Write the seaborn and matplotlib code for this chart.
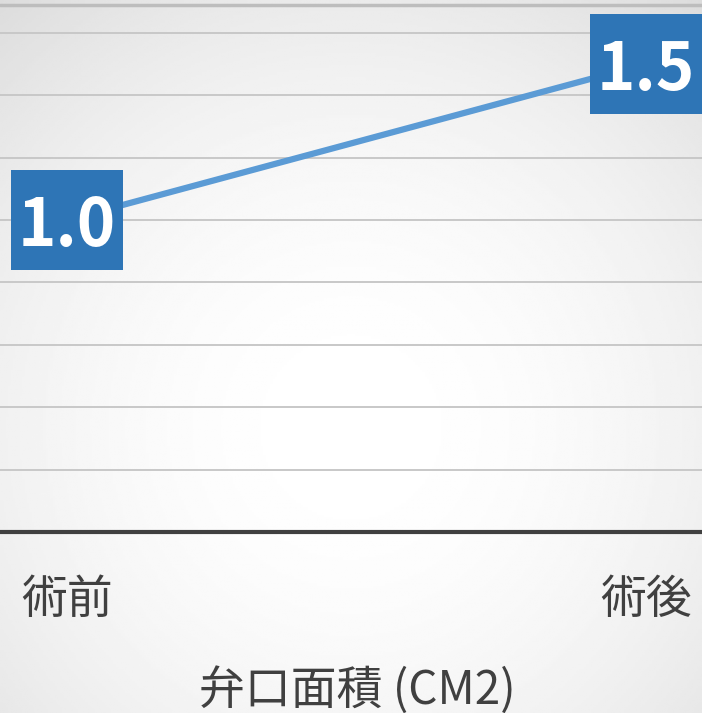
# 弁口面積 術前/術後 折れ線グラフ
import numpy as np
import pandas as pd
import seaborn as sns
import matplotlib.pyplot as plt

phases = ['術前', '術後']
valveArea = [1.0, 1.5]
valueLabels = ['1.0', '1.5']
xTitle = '弁口面積 (CM2)'
gridTicks = [0.0, 0.2, 0.4, 0.6, 0.8, 1.0, 1.2, 1.4, 1.6]

sns.set_theme(style='white')
plt.rcParams['font.family'] = ['Noto Sans CJK JP', 'DejaVu Sans']

fig = plt.figure(figsize=(7.02, 7.13), dpi=100)

# radial gradient background
bg = fig.add_axes([0, 0, 1, 1], zorder=0)
yy, xx = np.mgrid[0:1:300j, 0:1:300j]
r = np.sqrt((xx - 0.5) ** 2 + (yy - 0.6) ** 2)
shade = np.clip(1.0 - 0.11 * (r / 0.7) ** 2, 0, 1)
bg.imshow(shade, cmap='gray', vmin=0, vmax=1, extent=[0, 1, 0, 1],
          aspect='auto', origin='upper')
bg.axis('off')

ax = fig.add_axes([0, 0.2539, 1, 0.7461], zorder=1)
ax.patch.set_alpha(0)

df = pd.DataFrame({'phase': phases, 'area': valveArea})
sns.lineplot(data=df, x='phase', y='area', ax=ax, color='#5B9BD5',
             linewidth=4.5, sort=False)

# label boxes drawn as rectangular markers on the data points
boxShape = [(-1.13, -1), (1.13, -1), (1.13, 1), (-1.13, 1)]
ax.plot(df['phase'], df['area'], linestyle='none', marker=boxShape,
        markersize=80.6, markerfacecolor='#2E75B6', markeredgewidth=0,
        zorder=4)

ax.set_xlim(-0.1157, 1.0967)
ax.set_ylim(0, 1.705)
ax.set_yticks(gridTicks)
ax.set_yticklabels([])
ax.grid(axis='y', color='#c8c8c8', linewidth=1.4)
ax.axhline(1.69, color='#bdbdbd', linewidth=2.5)
for side in ['left', 'right', 'top']:
    ax.spines[side].set_visible(False)
ax.spines['bottom'].set_color('#404040')
ax.spines['bottom'].set_linewidth(3)
ax.tick_params(axis='x', length=0, pad=31, labelsize=33, labelcolor='#404040')
ax.tick_params(axis='y', length=0)
ax.set_xlabel('')
ax.set_ylabel('')

for i, (v, lab) in enumerate(zip(valveArea, valueLabels)):
    ax.text(i, v, lab, ha='center', va='center_baseline', fontsize=47,
            fontweight='bold', color='white', zorder=5)

fig.text(357 / 702, 1 - 691 / 713, xTitle, ha='center', va='center',
         fontsize=33, color='#404040')

fig.savefig('out.png', dpi=100)
